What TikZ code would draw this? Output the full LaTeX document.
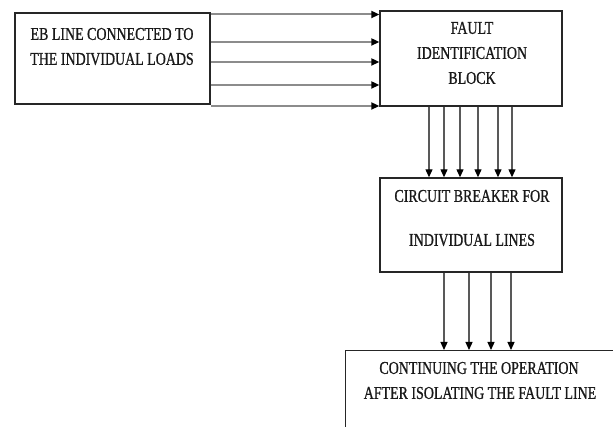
\documentclass[tikz,border=0pt]{standalone}
\usepackage{fontspec}
\newfontfamily\boxfont[FakeStretch=0.775,FakeBold=0.8]{Liberation Serif}
\usetikzlibrary{arrows.meta}
\begin{document}
\begin{tikzpicture}[x=1pt,y=-1pt,
  box/.style={draw=black!85,line width=1.4pt,rectangle,inner sep=0pt},
  txt/.style={inner sep=0pt,text=black!90,font=\boxfont\fontsize{18}{25}\selectfont},
  arrh/.style={draw=black!45,line width=2pt,-{Triangle[length=8pt,width=7pt,fill=black,color=black]}},
  arr/.style={draw=black!65,line width=1.2pt,-{Triangle[length=8pt,width=7pt,fill=black,color=black]}}]
\useasboundingbox (0,0) rectangle (613,427);
\clip (0,0) rectangle (613,427);
\fill[white] (0,0) rectangle (613,427);
% boxes
\node[box,minimum width=195pt,minimum height=91pt] (b1) at (112.5,58.5) {};
\node[box,minimum width=182pt,minimum height=95pt] (b2) at (471,58.5) {};
\node[box,minimum width=182pt,minimum height=94pt] (b3) at (471,225) {};
\node[box,minimum width=290pt,minimum height=100pt,anchor=north west] (b4) at (345,350) {};
% texts
\node[txt] (t1a) at (112,34) {EB LINE CONNECTED TO};
\node[txt] (t1b) at (112,59) {THE INDIVIDUAL LOADS};
\node[txt] (t2a) at (472,28) {FAULT};
\node[txt] (t2b) at (472,53) {IDENTIFICATION};
\node[txt] (t2c) at (472,78) {BLOCK};
\node[txt] (t3a) at (472,196) {CIRCUIT BREAKER FOR};
\node[txt] (t3b) at (472,240) {INDIVIDUAL LINES};
\node[txt] (t4a) at (479,368) {CONTINUING THE OPERATION};
\node[txt] (t4b) at (480,393) {AFTER ISOLATING THE FAULT LINE};
% horizontal arrows
\foreach \yy in {14.5,42,62,85,106}
  \draw[arrh] (b1.east |- {0,\yy}) -- (b2.west |- {0,\yy});
% arrows from fault block to circuit breaker
\foreach \xx in {429,444,460,478,498,512}
  \draw[arr] (b2.south -| {\xx,0}) -- (b3.north -| {\xx,0});
% arrows from circuit breaker to continuing block
\foreach \xx in {444,469,491,511}
  \draw[arr] (b3.south -| {\xx,0}) -- (b4.north -| {\xx,0});
\end{tikzpicture}
\end{document}
